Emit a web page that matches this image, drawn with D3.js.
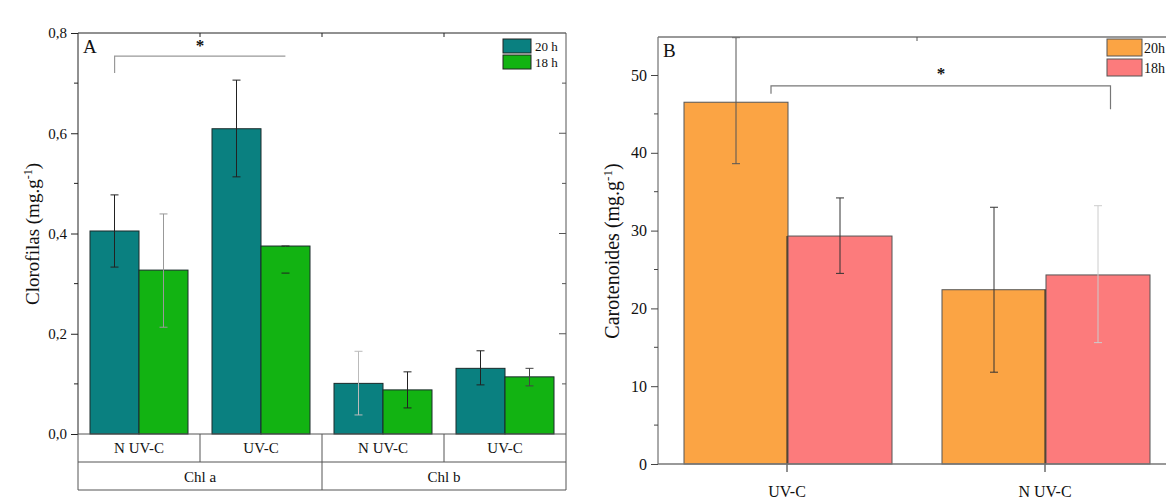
<!DOCTYPE html>
<html><head><meta charset="utf-8">
<script src="https://cdn.jsdelivr.net/npm/d3@7"></script>
<style>body{margin:0;background:#fff}svg{display:block}svg text{font-family:"Liberation Serif","Tinos","Times New Roman","DejaVu Serif",serif !important;fill:#111}</style>
</head><body><svg id="c" width="1166" height="500" font-family="Liberation Serif"></svg>
<script>
// ---------- Panel A data ----------
const pigmentsA = ["Chl a", "Chl b"];
const treatmentsA = ["N UV-C", "UV-C"];
const seriesA = ["20 h", "18 h"];
// values per [pigment-treatment] combos: Chl a N UV-C, Chl a UV-C, Chl b N UV-C, Chl b UV-C
const valA20 = [0.405, 0.609, 0.101, 0.131];
const valA18 = [0.327, 0.375, 0.088, 0.114];
const errHiA20 = [0.477, 0.706, 0.165, 0.166];
const errLoA20 = [0.333, 0.513, 0.038, 0.098];
const errHiA18 = [0.439, 0.375, 0.124, 0.131];
const errLoA18 = [0.213, 0.321, 0.052, 0.096];
const ticksA = [0, 0.2, 0.4, 0.6, 0.8];
const tickLabelsA = ["0,0", "0,2", "0,4", "0,6", "0,8"];

// ---------- Panel B data ----------
const categoriesB = ["UV-C", "N UV-C"];
const seriesB = ["20h", "18h"];
const valB20 = [46.5, 22.4];
const valB18 = [29.3, 24.3];
const errHiB20 = [54.8, 33.0];
const errLoB20 = [38.6, 11.8];
const errHiB18 = [34.2, 33.2];
const errLoB18 = [24.5, 15.6];
const ticksB = [0, 10, 20, 30, 40, 50];

// ---------- styles ----------
const colA = ["#0a8080", "#12b312"];
const colB = ["#fba444", "#fc7b7c"];
const errColA20 = ["#222", "#222", "#bbb", "#222"];
const errColA18 = ["#999", "#12b312", "#222", "#444"];
const errColB20 = ["#555", "#333"];
const errColB18 = ["#333", "#ccc"];
const FONT = '"Liberation Serif", Tinos, "Times New Roman", serif';

const svg = d3.select("#c");

// ===== Panel A =====
(function(){
  const L = 78, R = 566, T = 33, B = 434;
  const y = d3.scaleLinear().domain([0, 0.8]).range([B, T]);
  const combos = [];
  pigmentsA.forEach(p => treatmentsA.forEach(t => combos.push(p + "|" + t)));
  const x0 = d3.scaleBand().domain(combos).range([L, R]).padding(0);
  const x1 = d3.scaleBand().domain(seriesA).range([12, x0.bandwidth() - 12]).padding(0);
  const g = svg.append("g");

  const vals = [valA20, valA18], hi = [errHiA20, errHiA18], lo = [errLoA20, errLoA18], ec = [errColA20, errColA18];
  seriesA.forEach((s, si) => {
    g.selectAll(null).data(combos).enter().append("rect")
      .attr("x", d => x0(d) + x1(s))
      .attr("y", (d, i) => y(vals[si][i]))
      .attr("width", x1.bandwidth())
      .attr("height", (d, i) => B - y(vals[si][i]))
      .attr("fill", colA[si]).attr("stroke", "#1a2a2a").attr("stroke-width", 1);
  });
  seriesA.forEach((s, si) => {
    combos.forEach((d, i) => {
      const cx = x0(d) + x1(s) + x1.bandwidth() / 2;
      const c = ec[si][i];
      g.append("line").attr("x1", cx).attr("x2", cx).attr("y1", y(hi[si][i])).attr("y2", y(lo[si][i])).attr("stroke", c).attr("stroke-width", 1);
      [hi[si][i], lo[si][i]].forEach(v => g.append("line").attr("x1", cx - 4).attr("x2", cx + 4).attr("y1", y(v)).attr("y2", y(v)).attr("stroke", c === "#12b312" ? "#222" : c).attr("stroke-width", 1));
    });
  });

  g.append("line").attr("x1", L).attr("x2", L).attr("y1", T).attr("y2", B).attr("stroke", "#222");
  g.append("line").attr("x1", L).attr("x2", R).attr("y1", T).attr("y2", T).attr("stroke", "#222");
  g.append("line").attr("x1", R).attr("x2", R).attr("y1", T).attr("y2", 490).attr("stroke", "#555");
  const ya = d3.axisLeft(y).tickValues(ticksA).tickFormat((d, i) => tickLabelsA[i]).tickSize(7).tickPadding(4);
  const ag = g.append("g").attr("transform", `translate(${L},0)`).call(ya).attr("font-family", FONT).attr("font-size", 15);
  ag.select(".domain").remove();
  ag.selectAll("text").style("font-size", "15px").attr("fill", "#111");
  ag.selectAll("line").attr("stroke", "#222");
  [0.1, 0.3, 0.5, 0.7].forEach(v => g.append("line").attr("x1", L - 4).attr("x2", L).attr("y1", y(v)).attr("y2", y(v)).attr("stroke", "#222"));
  ticksA.slice(1, 4).concat([0.1, 0.3, 0.5, 0.7]).forEach(v => {
    const len = ticksA.includes(v) ? 7 : 4;
    g.append("line").attr("x1", R - len).attr("x2", R).attr("y1", y(v)).attr("y2", y(v)).attr("stroke", "#555");
  });
  combos.slice(1).forEach(d => g.append("line").attr("x1", x0(d)).attr("x2", x0(d)).attr("y1", T).attr("y2", T + 4).attr("stroke", "#222"));

  const r1 = 462, r2 = 490;
  [B, r1, r2].forEach(yy => g.append("line").attr("x1", L).attr("x2", R).attr("y1", yy).attr("y2", yy).attr("stroke", "#555"));
  g.append("line").attr("x1", L).attr("x2", L).attr("y1", B).attr("y2", r2).attr("stroke", "#555");
  combos.slice(1).forEach(d => {
    const isOuter = d.split("|")[1] === treatmentsA[0];
    g.append("line").attr("x1", x0(d)).attr("x2", x0(d)).attr("y1", B).attr("y2", isOuter ? r2 : r1).attr("stroke", "#555");
  });
  combos.forEach(d => g.append("text").attr("x", x0(d) + x0.bandwidth() / 2).attr("y", 453).attr("text-anchor", "middle").style("font-size", "15px").text(d.split("|")[1]));
  pigmentsA.forEach(p => {
    const a = x0(p + "|" + treatmentsA[0]), b = x0(p + "|" + treatmentsA[1]) + x0.bandwidth();
    g.append("text").attr("x", (a + b) / 2).attr("y", 482).attr("text-anchor", "middle").style("font-size", "15px").text(p);
  });

  const bx1 = x0(combos[0]) + x0.bandwidth() * 0.3, bx2 = x0(combos[1]) + x0.bandwidth() * 0.7;
  g.append("path").attr("d", `M${bx1},${y(0.72)}V${y(0.754)}H${bx2}`).attr("fill", "none").attr("stroke", "#999").attr("stroke-width", 1.2);
  g.append("text").attr("x", x0(combos[1])).attr("y", 51).attr("text-anchor", "middle").style("font-size", "17px").style("font-weight", "bold").text("*");
  g.append("text").attr("x", L + 5).attr("y", 53).style("font-size", "19px").text("A");

  seriesA.forEach((s, i) => {
    g.append("rect").attr("x", 503).attr("y", 39 + i * 16).attr("width", 28).attr("height", 14).attr("fill", colA[i]).attr("stroke", "#222");
    g.append("text").attr("x", 535).attr("y", 51 + i * 16).style("font-size", "13px").text(s);
  });

  const lab = g.append("text").attr("transform", `translate(39,234) rotate(-90)`).attr("text-anchor", "middle").style("font-size", "19px");
  lab.append("tspan").text("Clorofilas (mg.g");
  lab.append("tspan").attr("dy", -7).style("font-size", "12px").text("-1");
  lab.append("tspan").attr("dy", 7).text(")");
})();

// ===== Panel B =====
(function(){
  const L = 658, R = 1175, T = 37, B = 464;
  const y = d3.scaleLinear().domain([0, 50]).range([B, 75]);
  const x0 = d3.scaleBand().domain(categoriesB).range([659, R]).padding(0);
  const x1 = d3.scaleBand().domain(seriesB).range([25, 233]).padding(0);
  const g = svg.append("g");
  const vals = [valB20, valB18], hi = [errHiB20, errHiB18], lo = [errLoB20, errLoB18], ec = [errColB20, errColB18];
  seriesB.forEach((s, si) => {
    g.selectAll(null).data(categoriesB).enter().append("rect")
      .attr("x", d => x0(d) + x1(s))
      .attr("y", (d, i) => y(vals[si][i]))
      .attr("width", x1.bandwidth())
      .attr("height", (d, i) => B - y(vals[si][i]))
      .attr("fill", colB[si]).attr("stroke", "#555").attr("stroke-width", 1);
  });
  seriesB.forEach((s, si) => {
    categoriesB.forEach((d, i) => {
      const cx = x0(d) + x1(s) + x1.bandwidth() / 2;
      const c = ec[si][i];
      g.append("line").attr("x1", cx).attr("x2", cx).attr("y1", y(hi[si][i])).attr("y2", y(lo[si][i])).attr("stroke", c);
      [hi[si][i], lo[si][i]].forEach(v => g.append("line").attr("x1", cx - 4).attr("x2", cx + 4).attr("y1", y(v)).attr("y2", y(v)).attr("stroke", c));
    });
  });
  categoriesB.forEach((d, i) => {
    const cx = x0(d) + x0.bandwidth() / 2 - 1;
    g.append("line").attr("x1", cx).attr("x2", cx).attr("y1", Math.max(y(vals[0][i]), y(vals[1][i]))).attr("y2", B + 8).attr("stroke", "#222");
  });
  g.append("line").attr("x1", L).attr("x2", L).attr("y1", T).attr("y2", B).attr("stroke", "#555");
  g.append("line").attr("x1", L).attr("x2", 1166).attr("y1", T).attr("y2", T).attr("stroke", "#777").attr("stroke-width", 1.3);
  g.append("line").attr("x1", L).attr("x2", 1166).attr("y1", B).attr("y2", B).attr("stroke", "#777").attr("stroke-width", 1.3);
  g.append("line").attr("x1", x0(categoriesB[1])).attr("x2", x0(categoriesB[1])).attr("y1", T).attr("y2", T + 4).attr("stroke", "#555");
  const ya = d3.axisLeft(y).tickValues(ticksB).tickSize(7).tickPadding(4);
  const ag = g.append("g").attr("transform", `translate(${L},0)`).call(ya).attr("font-family", FONT).attr("font-size", 15);
  ag.select(".domain").remove();
  ag.selectAll("text").style("font-size", "16px").attr("fill", "#111");
  ag.selectAll("line").attr("stroke", "#444");
  [5, 15, 25, 35, 45].forEach(v => g.append("line").attr("x1", L - 4).attr("x2", L).attr("y1", y(v)).attr("y2", y(v)).attr("stroke", "#444"));
  categoriesB.forEach(d => g.append("text").attr("x", x0(d) + x0.bandwidth() / 2 - 1).attr("y", 497).attr("text-anchor", "middle").style("font-size", "16px").text(d));

  const bx1 = x0(categoriesB[0]) + x1(seriesB[1]) - 17, bx2 = x0(categoriesB[1]) + x0.bandwidth() * 0.75;
  g.append("path").attr("d", `M${bx1},${y(47.6)}V${y(48.6)}H${bx2}V${y(45.6)}`).attr("fill", "none").attr("stroke", "#777").attr("stroke-width", 1.2);
  g.append("text").attr("x", 941).attr("y", 79).attr("text-anchor", "middle").style("font-size", "17px").style("font-weight", "bold").text("*");
  g.append("text").attr("x", 663).attr("y", 57).style("font-size", "19px").text("B");

  seriesB.forEach((s, i) => {
    g.append("rect").attr("x", 1107).attr("y", 39 + i * 20).attr("width", 35).attr("height", 17).attr("fill", colB[i]).attr("stroke", "#555");
    g.append("text").attr("x", 1144).attr("y", 53 + i * 20).style("font-size", "14px").text(s);
  });

  const lab = g.append("text").attr("transform", `translate(619,251) rotate(-90)`).attr("text-anchor", "middle").style("font-size", "20px");
  lab.append("tspan").text("Carotenoides (mg.g");
  lab.append("tspan").attr("dy", -7).style("font-size", "13px").text("-1");
  lab.append("tspan").attr("dy", 7).text(")");
})();
</script></body></html>
